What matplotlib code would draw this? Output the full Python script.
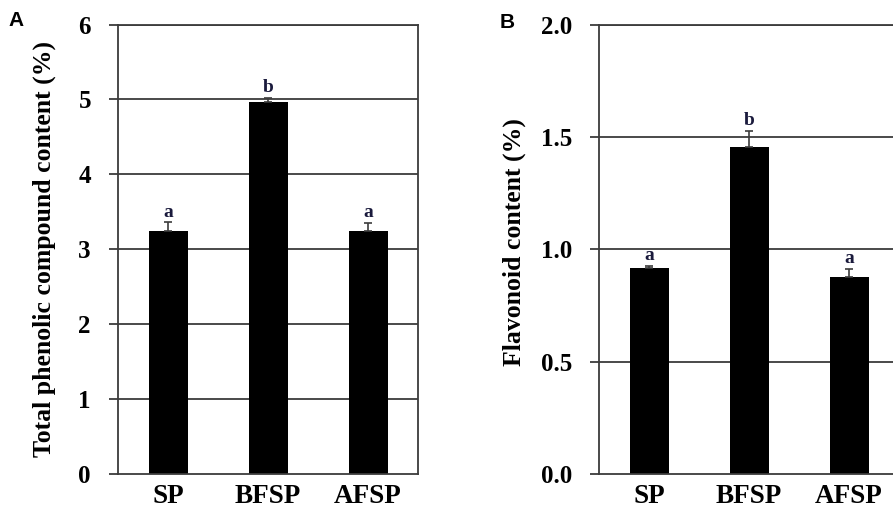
import matplotlib
matplotlib.use("Agg")
import matplotlib.pyplot as plt
import numpy as np

categories = ["SP", "BFSP", "AFSP"]
phenolic = [3.25, 4.97, 3.25]
phenolic_err = [0.11, 0.05, 0.10]
phenolic_letters = ["a", "b", "a"]
flavonoid = [0.915, 1.456, 0.875]
flavonoid_err = [0.012, 0.07, 0.037]
flavonoid_letters = ["a", "b", "a"]

W, H = 893, 512
fig = plt.figure(figsize=(W / 100, H / 100), dpi=100)

serif = ["Liberation Serif", "DejaVu Serif"]
sans = ["Liberation Sans", "DejaVu Sans"]
grey = "#3c3c3c"


def panel(left_px, values, errs, letters, ymax, step, ylabel, fmt, label_xy):
    ax = fig.add_axes([left_px / W, (H - 474) / H, 300 / W, 449.5 / H])
    x = np.arange(len(categories))
    ax.set_axisbelow(True)
    for yv in np.arange(step, ymax + step / 2, step):
        ax.axhline(yv, color=grey, lw=1.3, zorder=0)
    ax.bar(x, values, width=0.39, color="black", zorder=2)
    ax.errorbar(x, values, yerr=[np.zeros(len(errs)), errs], fmt="none",
                ecolor=grey, elinewidth=1.2, capsize=2.7, capthick=1.2, zorder=3)
    for xi, v, e, t in zip(x, values, errs, letters):
        ax.annotate(t, (xi, v + e), xytext=(0, 4), textcoords="offset points",
                    ha="center", va="baseline", fontsize=14, fontweight="bold",
                    family=serif, color="#1a1a3c")
    ax.set_xlim(-0.5, 2.5)
    ax.set_ylim(0, ymax)
    ticks = np.arange(0, ymax + step / 2, step)
    ax.set_yticks(ticks)
    ax.set_yticklabels([fmt.format(v) for v in ticks])
    ax.set_xticks(x)
    ax.set_xticklabels(categories)
    for s in ax.spines.values():
        s.set_color(grey)
        s.set_linewidth(1.3)
    ax.tick_params(axis="y", direction="out", length=6.5, width=1.3, color=grey, pad=13)
    ax.tick_params(axis="x", length=0, pad=7)
    for lab in ax.get_yticklabels():
        lab.set_fontfamily(serif)
        lab.set_fontweight("bold")
        lab.set_fontsize(18)
    for lab in ax.get_xticklabels():
        lab.set_fontfamily(serif)
        lab.set_fontweight("bold")
        lab.set_fontsize(19.5)
    ax.set_ylabel(ylabel, fontsize=18.5, fontweight="bold", family=serif)
    ax.yaxis.set_label_coords(*label_xy)
    return ax


axA = panel(118, phenolic, phenolic_err, phenolic_letters, 6, 1,
            "Total phenolic compound content (%)", "{:.0f}", (-0.207, 0.5))
axB = panel(599, flavonoid, flavonoid_err, flavonoid_letters, 2.0, 0.5,
            "Flavonoid content (%)", "{:.1f}", (-0.243, 0.515))

fig.text(8 / W, 1 - 20 / H, "A", fontsize=15, fontweight="bold", family=sans, va="center")
fig.text(500 / W, 1 - 23 / H, "B", fontsize=15, fontweight="bold", family=sans, va="center")

fig.savefig("out.png", dpi=100, facecolor="white")
